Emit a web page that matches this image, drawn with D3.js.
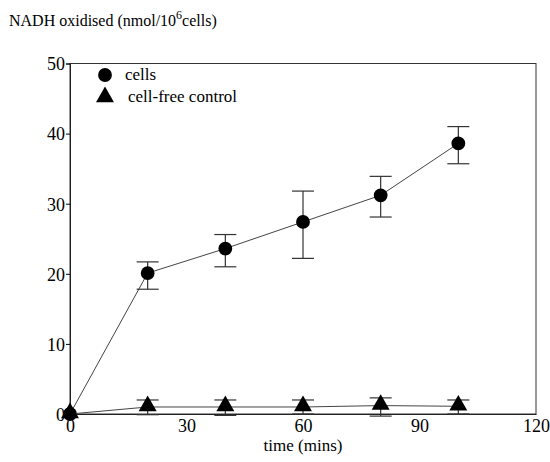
<!DOCTYPE html>
<html>
<head>
<meta charset="utf-8">
<script src="https://cdn.jsdelivr.net/npm/d3@7"></script>
<style>
  body { margin: 0; background: #fff; }
  svg text { font-family: "Liberation Serif", "Times New Roman", serif !important; }
</style>
</head>
<body>
<svg id="plot" width="550" height="462"></svg>
<script>
// data
var times = [0, 20, 40, 60, 80, 100];
var cells = [0, 20.1, 23.6, 27.4, 31.2, 38.6];
var cellsHigh = [0, 21.7, 25.6, 31.8, 33.9, 41.0];
var cellsLow = [0, 17.8, 21.0, 22.2, 28.1, 35.7];
var control = [0, 1.0, 1.0, 1.0, 1.2, 1.1];
var controlHigh = [0, 2.0, 2.0, 2.0, 2.3, 2.0];
var controlLow = [0, -0.1, -0.2, 0, -0.3, 0];
var xTicks = [0, 30, 60, 90, 120];
var yTicks = [0, 10, 20, 30, 40, 50];

// plot box (note: "top" is reserved on window)
var plotLeft = 70, plotRight = 536, plotTop = 63.5, plotBottom = 414;

var svg = d3.select("#plot");

var x = d3.scaleLinear().domain([0, 120]).range([plotLeft, plotRight]);
var y = d3.scaleLinear().domain([0, 50]).range([plotBottom, plotTop]);

// frame
svg.append("rect")
   .attr("x", plotLeft).attr("y", plotTop)
   .attr("width", plotRight - plotLeft).attr("height", plotBottom - plotTop)
   .attr("fill", "none").attr("stroke", "#333").attr("stroke-width", 1);

// y axis
var yAxis = svg.append("g")
   .attr("transform", "translate(" + plotLeft + ",0)")
   .call(d3.axisLeft(y).tickValues(yTicks).tickSize(4).tickPadding(1));
yAxis.select(".domain").attr("stroke", "#222");
yAxis.selectAll("text").attr("fill", "#000").attr("dy", "0.35em").style("font-size", "18px");

// x axis (labels only)
var xAxis = svg.append("g")
   .attr("transform", "translate(0," + plotBottom + ")")
   .call(d3.axisBottom(x).tickValues(xTicks).tickSize(0).tickPadding(5));
xAxis.select(".domain").attr("stroke", "#222");
xAxis.selectAll("text").attr("fill", "#000").style("font-size", "18px");

var line = d3.line()
   .x(function(d){ return x(d[0]); })
   .y(function(d){ return y(d[1]); });

function drawSeries(vals, hi, lo, shape){
  var pts = times.map(function(t, i){ return [t, vals[i]]; });
  svg.append("path")
     .attr("d", line(pts))
     .attr("fill", "none").attr("stroke", "#444").attr("stroke-width", 1);

  var bars = svg.append("g").attr("stroke", "#333").attr("stroke-width", 1.2);
  times.forEach(function(t, i){
    if (i == 0) return;
    var cx = x(t);
    bars.append("line").attr("x1", cx).attr("x2", cx).attr("y1", y(hi[i])).attr("y2", y(lo[i]));
    bars.append("line").attr("x1", cx - 11).attr("x2", cx + 11).attr("y1", y(hi[i])).attr("y2", y(hi[i]));
    bars.append("line").attr("x1", cx - 11).attr("x2", cx + 11).attr("y1", y(lo[i])).attr("y2", y(lo[i]));
  });

  svg.append("g").selectAll("path")
     .data(pts)
     .enter()
     .append("path")
     .attr("d", d3.symbol().type(shape).size(shape == d3.symbolCircle ? 150 : 140))
     .attr("transform", function(d){
        return "translate(" + x(d[0]) + "," + (y(d[1]) - (shape == d3.symbolTriangle ? 1 : 0)) + ")";
     })
     .attr("fill", "#000");
}

drawSeries(cells, cellsHigh, cellsLow, d3.symbolCircle);
drawSeries(control, controlHigh, controlLow, d3.symbolTriangle);

// legend
var legend = svg.append("g");
legend.append("path")
   .attr("d", d3.symbol().type(d3.symbolCircle).size(150))
   .attr("transform", "translate(105,75)");
legend.append("text").attr("x", 125).attr("y", 80).style("font-size", "17px").text("cells");
legend.append("path")
   .attr("d", d3.symbol().type(d3.symbolTriangle).size(140))
   .attr("transform", "translate(105,97)");
legend.append("text").attr("x", 128).attr("y", 102).style("font-size", "17px").text("cell-free control");

// titles
var title = svg.append("text").attr("x", 9).attr("y", 26).style("font-size", "16px");
title.append("tspan").text("NADH oxidised (nmol/10");
title.append("tspan").attr("dy", -7).style("font-size", "12px").text("6");
title.append("tspan").attr("dy", 7).text("cells)");

svg.append("text")
   .attr("x", 303).attr("y", 451)
   .attr("text-anchor", "middle")
   .style("font-size", "17px")
   .text("time (mins)");
</script>
</body>
</html>
